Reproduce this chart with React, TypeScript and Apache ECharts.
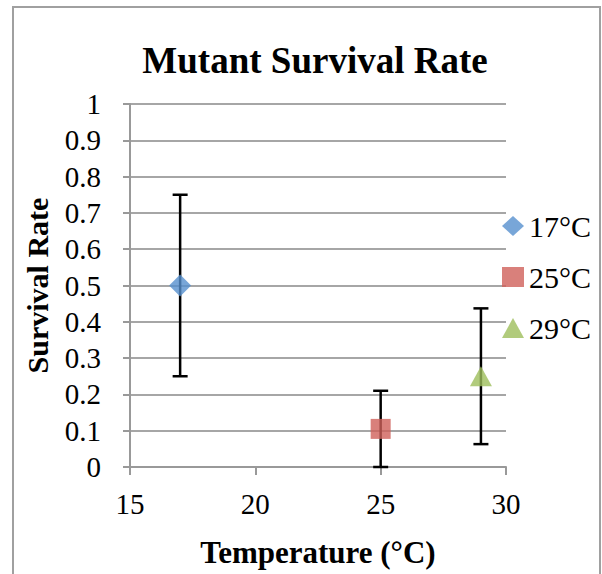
import React, { useEffect, useRef } from "react";
import * as echarts from "echarts";

const seriesNames = ["17°C", "25°C", "29°C"];
const temperatures = [17, 25, 29];
const survivalRates = [0.5, 0.105, 0.25];
const errorMargins = [0.25, 0.105, 0.187];
const markerSymbols = ["diamond", "rect", "triangle"];
const markerColors = ["#5690CE", "#D0605A", "#9DBE5B"];

const FONT = '"Liberation Serif", "Times New Roman", serif';

export default function App() {
  const ref = useRef<HTMLDivElement>(null);

  useEffect(() => {
    if (!ref.current) return;
    const chart = echarts.init(ref.current, undefined, { renderer: "svg" });

    const scatterSeries = seriesNames.map((name, i) => ({
      name,
      type: "scatter",
      symbol: markerSymbols[i],
      symbolSize: markerSymbols[i] === "triangle" ? [22, 20] : markerSymbols[i] === "rect" ? 20 : 22,
      itemStyle: { color: markerColors[i] },
      z: 5,
      data: [[temperatures[i], survivalRates[i]]],
    }));

    const errorData = temperatures.map((t, i) => [
      t,
      survivalRates[i] - errorMargins[i],
      survivalRates[i] + errorMargins[i],
    ]);

    const option = {
      animation: false,
      backgroundColor: "#fff",
      textStyle: { fontFamily: FONT },
      title: {
        text: "Mutant Survival Rate",
        left: 310,
        textAlign: "center",
        top: 37,
        textStyle: { fontFamily: FONT, fontSize: 37, fontWeight: "bold", color: "#000" },
      },
      legend: {
        orient: "vertical",
        left: 497,
        top: 206,
        itemWidth: 22,
        itemHeight: 20,
        itemGap: 21,
        textStyle: { fontFamily: FONT, fontSize: 30, color: "#000", lineHeight: 30 },
        data: seriesNames.map((n, i) => ({ name: n, icon: markerSymbols[i] })),
      },
      grid: { left: 130, right: 96, top: 104, bottom: 107, containLabel: false },
      xAxis: {
        type: "value",
        min: 15,
        max: 30,
        interval: 5,
        name: "Temperature (°C)",
        nameLocation: "middle",
        nameGap: 70,
        nameTextStyle: { fontFamily: FONT, fontSize: 31, fontWeight: "bold", color: "#000" },
        axisLine: { show: true, onZero: false, lineStyle: { color: "#999", width: 2 } },
        axisTick: { show: true, length: 8, lineStyle: { color: "#999", width: 2 } },
        axisLabel: { fontFamily: FONT, fontSize: 29, color: "#000", margin: 22 },
        splitLine: { show: false },
      },
      yAxis: {
        type: "value",
        min: 0,
        max: 1,
        interval: 0.1,
        name: "Survival Rate",
        nameLocation: "middle",
        nameGap: 78,
        nameTextStyle: { fontFamily: FONT, fontSize: 30, fontWeight: "bold", color: "#000" },
        axisLine: { show: true, lineStyle: { color: "#999", width: 2 } },
        axisTick: { show: true, length: 7, lineStyle: { color: "#999", width: 2 } },
        axisLabel: {
          fontFamily: FONT,
          fontSize: 29,
          color: "#000",
          margin: 29,
          formatter: (v: number) => String(Math.round(v * 10) / 10),
        },
        splitLine: { show: true, lineStyle: { color: "#a6a6a6", width: 2 } },
      },
      graphic: [
        {
          type: "rect",
          shape: { x: 13, y: 7, width: 587, height: 620 },
          style: { fill: "none", stroke: "#a0a0a0", lineWidth: 2 },
          silent: true,
          z: -10,
        },
      ],
      series: [
        {
          name: "error",
          type: "custom",
          z: 3,
          silent: true,
          data: errorData,
          renderItem: (params: any, api: any) => {
            const x = api.value(0);
            const lo = api.value(1);
            const hi = api.value(2);
            const pHi = api.coord([x, hi]);
            const pLo = api.coord([x, lo]);
            const w = 7.5;
            const st = { stroke: "#000", lineWidth: 2.5 };
            return {
              type: "group",
              children: [
                { type: "line", shape: { x1: pHi[0], y1: pHi[1], x2: pLo[0], y2: pLo[1] }, style: st },
                { type: "line", shape: { x1: pHi[0] - w, y1: pHi[1], x2: pHi[0] + w, y2: pHi[1] }, style: st },
                { type: "line", shape: { x1: pLo[0] - w, y1: pLo[1], x2: pLo[0] + w, y2: pLo[1] }, style: st },
              ],
            };
          },
        },
        ...scatterSeries,
      ],
    };

    chart.setOption(option as any);
    return () => chart.dispose();
  }, []);

  return (
    <div
      ref={ref}
      style={{ position: "fixed", left: 0, top: 0, width: 602, height: 574 }}
    />
  );
}
